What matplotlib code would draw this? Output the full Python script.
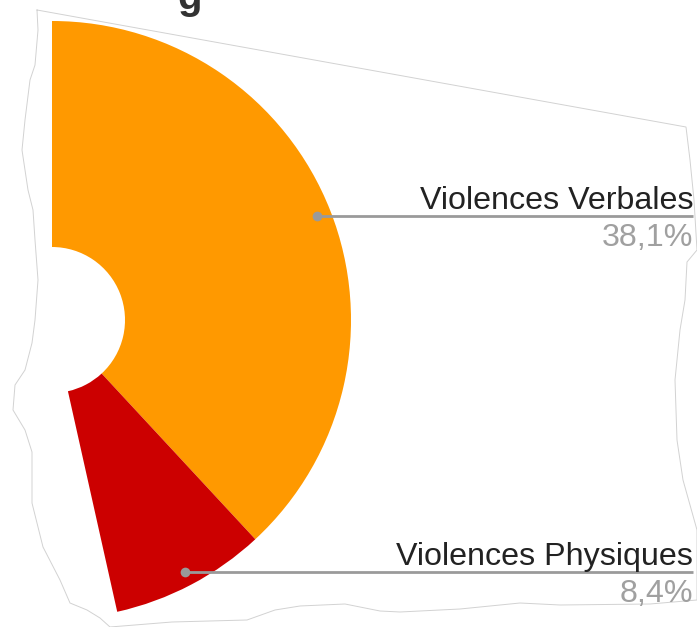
# donut chart crop: Violences Verbales / Physiques
import numpy as np
import matplotlib
matplotlib.use("Agg")
import matplotlib.pyplot as plt

# -------------------------
# Data
# -------------------------
labels = ["Violences Verbales", "Violences Physiques"]
shares = [0.381, 0.084]          # fraction of the full donut
pct_labels = ["38,1%", "8,4%"]
colors = ["#FF9900", "#CC0000"]
title_text = "g"                 # only the bottom of the title survives the crop

# -------------------------
# Figure in pixel units (y up)
# -------------------------
W, H = 697, 627
fig = plt.figure(figsize=(W / 100, H / 100), dpi=100)
ax = fig.add_axes([0, 0, 1, 1])

cx, cy = 52, H - 320
r_out, r_in = 299, 73

wedges, _ = ax.pie(shares, colors=colors, startangle=90, counterclock=False,
                   normalize=False, center=(cx, cy), radius=r_out,
                   wedgeprops=dict(width=r_out - r_in, linewidth=0))

# leader lines + labels
r_dot = 285
start = 90.0
for lab, s, pct in zip(labels, shares, pct_labels):
    mid = np.deg2rad(start - s * 360 / 2)
    start -= s * 360
    dx = cx + r_dot * np.cos(mid)
    dy = cy + r_dot * np.sin(mid)
    ax.plot([dx, 693], [dy, dy], color="#9a9a9a", lw=2, solid_capstyle="butt", zorder=3)
    ax.plot(dx, dy, "o", color="#9a9a9a", ms=7, mec="none", zorder=4)
    ax.text(693, dy + 7, lab, ha="right", va="baseline", fontsize=23.2,
            family="Liberation Sans", color="#222222")
    ax.text(693, dy - 30, pct, ha="right", va="baseline", fontsize=23.2,
            family="Liberation Sans", color="#a0a0a0")

# title remnant
ax.text(190, H - 9, title_text, ha="center", va="baseline", fontsize=29,
        fontweight="bold", family="Liberation Sans", color="#333333")

# torn paper outline (decoration)
edge = [(37, 10), (686, 127), (690, 160), (694, 200), (697, 250), (687, 262),
        (685, 300), (680, 330), (675, 380), (677, 440), (683, 480), (697, 530),
        (697, 600), (650, 604), (560, 605), (520, 603), (460, 609), (400, 612),
        (380, 611), (345, 604), (300, 606), (275, 610), (247, 620), (172, 622),
        (110, 627), (100, 618), (87, 610), (70, 603), (60, 580), (43, 547),
        (32, 503), (32, 452), (25, 430), (13, 410), (15, 385), (25, 370),
        (32, 343), (35, 320), (38, 280), (35, 240), (33, 210), (28, 190),
        (22, 150), (25, 120), (30, 80), (35, 65), (38, 30), (37, 10)]
ex = [p[0] for p in edge]
ey = [H - p[1] for p in edge]
ax.plot(ex, ey, color="#d2d2d2", lw=0.7, zorder=1)

ax.set_xlim(0, W)
ax.set_ylim(0, H)
ax.set_aspect("equal")
ax.axis("off")

fig.savefig("out.png", dpi=100, facecolor="white")
